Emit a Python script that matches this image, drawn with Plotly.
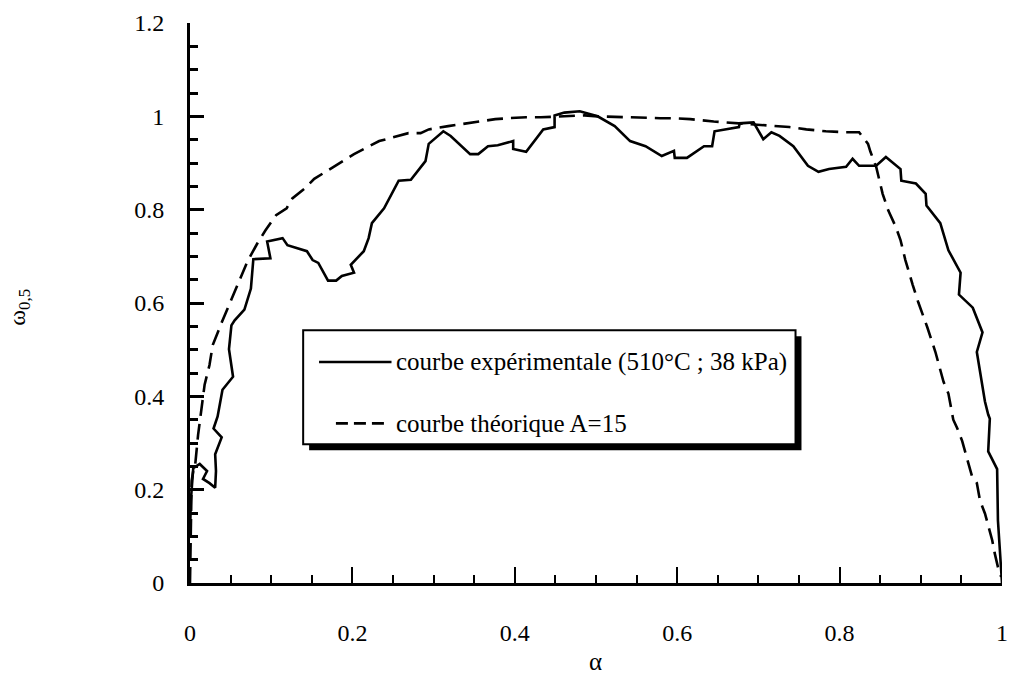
import plotly.graph_objects as go

# Courbe expérimentale (510 °C ; 38 kPa)
alpha_exp = [0.000, 0.001, 0.004, 0.012, 0.021, 0.016, 0.024, 0.031, 0.032, 0.031,
             0.039, 0.029, 0.034, 0.040, 0.053, 0.048, 0.051, 0.055, 0.067, 0.075,
             0.078, 0.099, 0.095, 0.114, 0.120, 0.144, 0.151, 0.158, 0.170, 0.180,
             0.187, 0.202, 0.198, 0.214, 0.220, 0.224, 0.239, 0.257, 0.272, 0.290,
             0.294, 0.312, 0.321, 0.345, 0.355, 0.367, 0.379, 0.398, 0.398, 0.414,
             0.435, 0.449, 0.449, 0.461, 0.480, 0.502, 0.523, 0.542, 0.561, 0.581,
             0.596, 0.597, 0.612, 0.633, 0.643, 0.646, 0.676, 0.677, 0.694, 0.706,
             0.716, 0.726, 0.743, 0.755, 0.761, 0.774, 0.787, 0.808, 0.816, 0.824,
             0.845, 0.857, 0.875, 0.876, 0.894, 0.906, 0.907, 0.924, 0.934, 0.949,
             0.947, 0.964, 0.976, 0.969, 0.979, 0.983, 0.985, 0.983, 0.994, 0.995,
             0.998, 0.999, 1.000]
omega_exp = [0.102, 0.176, 0.246, 0.255, 0.240, 0.223, 0.214, 0.204, 0.240, 0.276,
             0.312, 0.331, 0.357, 0.414, 0.442, 0.501, 0.552, 0.563, 0.586, 0.631,
             0.694, 0.696, 0.732, 0.739, 0.724, 0.711, 0.692, 0.686, 0.648, 0.648,
             0.658, 0.665, 0.682, 0.711, 0.739, 0.771, 0.803, 0.862, 0.864, 0.904,
             0.941, 0.968, 0.958, 0.919, 0.919, 0.936, 0.938, 0.947, 0.930, 0.924,
             0.972, 0.977, 1.002, 1.008, 1.011, 1.000, 0.979, 0.947, 0.936, 0.915,
             0.926, 0.911, 0.911, 0.936, 0.936, 0.968, 0.977, 0.985, 0.987, 0.951,
             0.966, 0.958, 0.936, 0.909, 0.894, 0.881, 0.887, 0.892, 0.909, 0.894,
             0.894, 0.913, 0.887, 0.862, 0.856, 0.834, 0.809, 0.771, 0.713, 0.665,
             0.618, 0.590, 0.537, 0.495, 0.389, 0.361, 0.352, 0.282, 0.244, 0.134,
             0.064, 0.034, 0.000]

# Courbe théorique A=15
alpha_th = [0.000, 0.001, 0.002, 0.004, 0.006, 0.010, 0.015, 0.018, 0.024, 0.028,
            0.039, 0.051, 0.061, 0.071, 0.083, 0.093, 0.106, 0.119, 0.126, 0.141,
            0.153, 0.169, 0.202, 0.233, 0.269, 0.284, 0.294, 0.318, 0.334, 0.351,
            0.376, 0.392, 0.414, 0.432, 0.461, 0.486, 0.502, 0.535, 0.551, 0.579,
            0.596, 0.616, 0.645, 0.661, 0.682, 0.706, 0.738, 0.759, 0.783, 0.808,
            0.824, 0.835, 0.838, 0.845, 0.853, 0.860, 0.869, 0.875, 0.881, 0.890,
            0.897, 0.908, 0.918, 0.928, 0.934, 0.940, 0.945, 0.951, 0.957, 0.963,
            0.969, 0.973, 0.979, 0.983, 0.988, 0.991, 0.995, 0.999]
omega_th = [0.000, 0.091, 0.219, 0.240, 0.246, 0.318, 0.378, 0.425, 0.467, 0.510,
            0.558, 0.607, 0.650, 0.690, 0.728, 0.756, 0.788, 0.803, 0.824, 0.845,
            0.866, 0.883, 0.919, 0.947, 0.964, 0.964, 0.972, 0.979, 0.983, 0.987,
            0.994, 0.996, 0.998, 0.998, 1.000, 1.002, 1.000, 0.998, 0.998, 0.996,
            0.996, 0.994, 0.989, 0.987, 0.985, 0.981, 0.977, 0.972, 0.968, 0.966,
            0.966, 0.941, 0.924, 0.892, 0.834, 0.798, 0.764, 0.735, 0.692, 0.639,
            0.601, 0.548, 0.495, 0.431, 0.406, 0.350, 0.331, 0.304, 0.265, 0.229,
            0.214, 0.176, 0.149, 0.123, 0.091, 0.064, 0.034, 0.013]

x_tick_vals = [0, 0.2, 0.4, 0.6, 0.8, 1]
x_tick_text = ["0", "0.2", "0.4", "0.6", "0.8", "1"]
y_tick_vals = [0, 0.2, 0.4, 0.6, 0.8, 1, 1.2]
y_tick_text = ["0", "0.2", "0.4", "0.6", "0.8", "1", "1.2"]

legend_labels = ["courbe expérimentale (510°C ; 38 kPa)", "courbe théorique A=15"]

SERIF = "Liberation Serif, Times New Roman, serif"
DASH = "16px,8px"

fig = go.Figure()
fig.add_trace(go.Scatter(x=alpha_exp, y=omega_exp, mode="lines",
                         line=dict(color="black", width=2.6),
                         name=legend_labels[0], showlegend=False))
fig.add_trace(go.Scatter(x=alpha_th, y=omega_th, mode="lines",
                         line=dict(color="black", width=2.6, dash=DASH),
                         name=legend_labels[1], showlegend=False))

W, H = 1018, 679
ML, MR, MT, MB = 190, 10, 18, 96
PW, PH = W - ML - MR, H - MT - MB


def px(xp):
    return (xp - ML) / PW


def py(yp):
    return (H - MB - yp) / PH


# framed legend with a drop shadow
bx0, bx1, by0, by1 = 304, 800, 328, 443
sh = 6
shapes = [
    dict(type="rect", xref="paper", yref="paper",
         x0=px(bx0 + sh), x1=px(bx1 + sh), y0=py(by1 + sh), y1=py(by0 + sh),
         fillcolor="black", line=dict(width=0)),
    dict(type="rect", xref="paper", yref="paper",
         x0=px(bx0), x1=px(bx1), y0=py(by1), y1=py(by0),
         fillcolor="white", line=dict(color="black", width=2)),
    dict(type="line", xref="paper", yref="paper",
         x0=px(320), x1=px(393), y0=py(360), y1=py(360),
         line=dict(color="black", width=2.6)),
    dict(type="line", xref="paper", yref="paper",
         x0=px(337), x1=px(391), y0=py(422), y1=py(422),
         line=dict(color="black", width=2.6, dash="12px,6px")),
]

annotations = [
    dict(xref="paper", yref="paper", x=px(396), y=py(360), xanchor="left", yanchor="middle",
         text=legend_labels[0], showarrow=False, font=dict(family=SERIF, size=25, color="black")),
    dict(xref="paper", yref="paper", x=px(396), y=py(422), xanchor="left", yanchor="middle",
         text=legend_labels[1], showarrow=False, font=dict(family=SERIF, size=25, color="black")),
    dict(xref="paper", yref="paper", x=px(598), y=py(662), xanchor="center", yanchor="middle",
         text="α", showarrow=False, font=dict(family=SERIF, size=25, color="black")),
    dict(xref="paper", yref="paper", x=px(18), y=py(305), xanchor="center", yanchor="middle",
         text="ω<sub>0,5</sub>", textangle=-90, showarrow=False,
         font=dict(family=SERIF, size=24, color="black")),
]

fig.update_layout(
    width=W, height=H,
    margin=dict(l=ML, r=MR, t=MT, b=MB),
    paper_bgcolor="white", plot_bgcolor="white",
    showlegend=False,
    shapes=shapes,
    annotations=annotations,
    font=dict(family=SERIF, size=24, color="black"),
)

fig.update_xaxes(
    range=[0, 1], showgrid=False, zeroline=False,
    showline=True, linecolor="black", linewidth=3,
    tickmode="array", tickvals=x_tick_vals, ticktext=x_tick_text,
    ticks="inside", ticklen=16, tickwidth=2, tickcolor="black",
    ticklabelstandoff=26,
    minor=dict(ticks="inside", ticklen=8, tickwidth=2, tickcolor="black", dtick=0.05, showgrid=False),
    tickfont=dict(family=SERIF, size=24, color="black"),
)
fig.update_yaxes(
    range=[0, 1.2], showgrid=False, zeroline=False,
    showline=True, linecolor="black", linewidth=3,
    tickmode="array", tickvals=y_tick_vals, ticktext=y_tick_text,
    ticks="inside", ticklen=14, tickwidth=3, tickcolor="black",
    ticklabelstandoff=18,
    minor=dict(ticks="inside", ticklen=8, tickwidth=3, tickcolor="black", dtick=0.05, showgrid=False),
    tickfont=dict(family=SERIF, size=24, color="black"),
)

fig.write_html("out.html")
